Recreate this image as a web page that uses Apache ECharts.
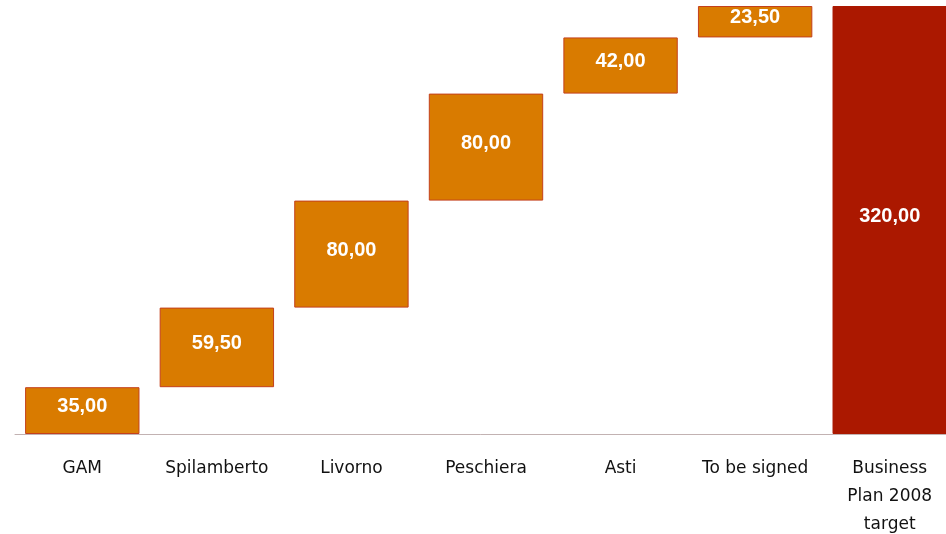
<!DOCTYPE html>
<html>
<head>
<meta charset="utf-8">
<script src="https://cdn.jsdelivr.net/npm/echarts@6/dist/echarts.min.js"></script>
<style>
    html, body { margin: 0; padding: 0; background: #fff; }
    #chart { width: 946px; height: 534px; }
</style>
</head>
<body>
<div id="chart"></div>
<script>
var categories = ['GAM', 'Spilamberto', 'Livorno', 'Peschiera', 'Asti', 'To be signed', 'Business\nPlan 2008\ntarget'];
var steps = [35.00, 59.50, 80.00, 80.00, 42.00, 23.50];
var total = 320.00;

function fmt(v) {
    return v.toFixed(2).replace('.', ',');
}

// invisible base + visible part, like a classic waterfall
var baseData = [];
var barData = [];
var acc = 0;
for (var i = 0; i < steps.length; i++) {
    baseData.push(acc);
    barData.push({
        value: steps[i],
        itemStyle: { color: '#d97b00', borderColor: '#c4401c', borderWidth: 1 }
    });
    acc += steps[i];
}
baseData.push(0);
barData.push({
    value: total,
    itemStyle: { color: '#ab1800', borderColor: '#ab1800', borderWidth: 1 }
});

var myChart = echarts.init(document.getElementById('chart'));
var option = {
    animation: false,
    grid: { left: 15, width: 942, top: 6, bottom: 100, containLabel: false, outerBoundsMode: 'none' },
    xAxis: {
        type: 'category',
        data: categories,
        axisTick: { show: false },
        axisLine: { lineStyle: { color: '#c2b2b2', width: 1 } },
        axisLabel: {
            interval: 0,
            margin: 21,
            color: '#111',
            fontFamily: 'DejaVu Sans',
            fontSize: 17,
            lineHeight: 28
        }
    },
    yAxis: {
        type: 'value',
        min: 0,
        max: 320,
        show: false,
        splitLine: { show: false }
    },
    series: [{
        name: 'base',
        type: 'bar',
        stack: 'w',
        barWidth: '85%',
        itemStyle: { color: 'transparent' },
        silent: true,
        data: baseData
    }, {
        name: 'value',
        type: 'bar',
        stack: 'w',
        barWidth: '85%',
        label: {
            show: true,
            position: 'inside',
            offset: [0, -4],
            color: '#fff',
            fontFamily: 'Liberation Sans',
            fontWeight: 'bold',
            fontSize: 20,
            formatter: function (p) { return fmt(p.value); }
        },
        data: barData
    }]
};
myChart.setOption(option);
</script>
</body>
</html>
